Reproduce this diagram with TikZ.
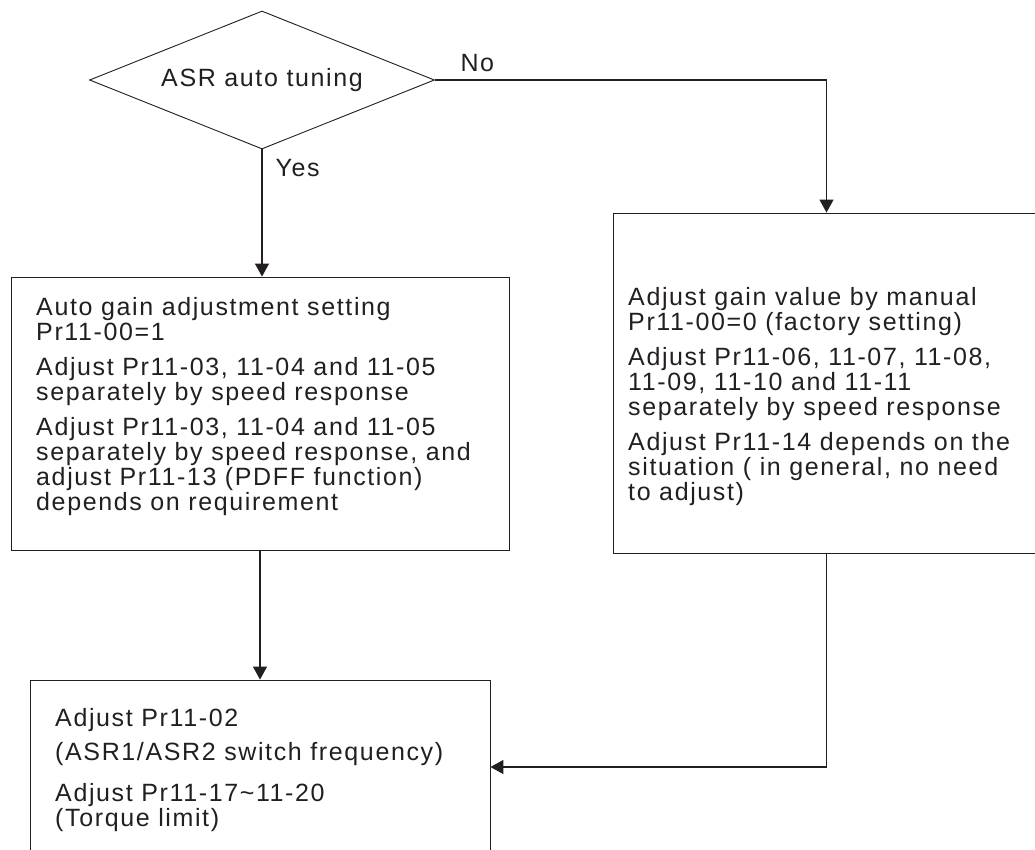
\documentclass[tikz,border=0pt]{standalone}
\usepackage{fontspec}
\setmainfont{Liberation Sans}[LetterSpace=6.5]
\usetikzlibrary{positioning, arrows.meta, shapes.geometric}
\definecolor{ink}{HTML}{231F20}

\begin{document}
\begin{tikzpicture}[x=1pt, y=-1pt, ink,
    box/.style={draw, line width=0.9pt, minimum width=#1, inner sep=0pt},
    txt/.style={anchor=north west, inner sep=0pt, align=left,
      font=\fontsize{25}{25}\selectfont},
    flow/.style={line width=1.3pt, -{Triangle[width=14pt, length=13pt]}}]
    \useasboundingbox (0,0) rectangle (1035,849);
    \clip (0,0) rectangle (1035,849);

    % decision
    \node[diamond, draw, line width=0.9pt, aspect=2.5, minimum width=345pt, minimum height=138pt,
      inner sep=0pt, font=\fontsize{25}{25}\selectfont] (tune) at (262,80) {ASR auto tuning};

    % boxes
    \node[box=498pt, minimum height=273pt] (autobox) at (260,413.5) {};
    \node[box=427pt, minimum height=340pt] (manbox) at (826.5,383) {};
    \node[box=460pt, minimum height=174pt] (endbox) at (260,767) {};

    \node[txt] (autotxt) at (36,297) {Auto gain adjustment setting\\Pr11-00=1\\[10pt]
      Adjust Pr11-03, 11-04 and 11-05\\separately by speed response\\[10pt]
      Adjust Pr11-03, 11-04 and 11-05\\separately by speed response, and\\
      adjust Pr11-13 (PDFF function)\\depends on requirement};
    \node[txt] (mantxt) at (628,287) {Adjust gain value by manual\\Pr11-00=0 (factory setting)\\[10pt]
      Adjust Pr11-06, 11-07, 11-08,\\11-09, 11-10 and 11-11\\separately by speed response\\[10pt]
      Adjust Pr11-14 depends on the\\situation ( in general, no need\\to adjust)};
    \node[txt] (endtxt) at (55,708) {Adjust Pr11-02\\[9pt](ASR1/ASR2 switch frequency)\\[16pt]
      Adjust Pr11-17\textasciitilde 11-20\\(Torque limit)};

    % connectors
    \draw[flow] (tune.east) -| (manbox.north);
    \draw[flow] (tune.south) -- (tune.south |- autobox.north);
    \draw[flow] (autobox.south) -- (endbox.north);
    \draw[flow] (manbox.south) |- (endbox.east);

    \node[font=\fontsize{25}{25}\selectfont, anchor=south west] (nolbl) at (457,75) {No};
    \node[font=\fontsize{25}{25}\selectfont, anchor=west] (yeslbl) at (272,168) {Yes};
\end{tikzpicture}
\end{document}
